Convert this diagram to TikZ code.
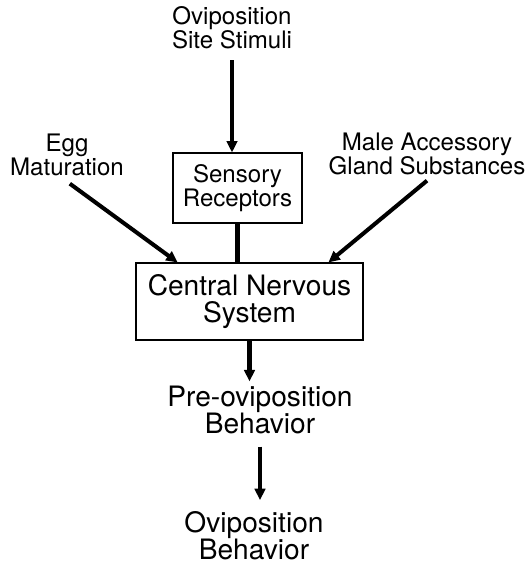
\documentclass[tikz,border=0pt]{standalone}
\usepackage{fontspec}
\setmainfont{TeX Gyre Heros}
\usetikzlibrary{arrows.meta,calc}

\begin{document}
\begin{tikzpicture}[
    lbl/.style={align=center,inner sep=3pt,font=\fontsize{13.7}{13.7}\selectfont},
    big/.style={align=center,inner sep=3pt,font=\fontsize{16}{15.4}\selectfont},
    box/.style={draw,line width=0.6pt},
    arr/.style={line width=2.3pt,-{Triangle[length=6.5pt,width=6pt]}}]

     \useasboundingbox (0,0) rectangle (10.48,11.32);

     \node[lbl] (stim) at (4.64,10.76) {Oviposition\\Site Stimuli};
     \node[lbl] (egg) at (1.34,8.22) {Egg\\Maturation};
     \node[lbl] (male) at (8.54,8.24) {Male Accessory\\Gland Substances};
     \node[lbl,box,minimum width=2.58cm,minimum height=1.4cm] (sens) at (4.75,7.56) {Sensory\\Receptors};
     \node[big,box,minimum width=4.54cm,minimum height=1.54cm] (cns) at (4.99,5.29) {Central Nervous\\System};
     \node[big] (pre) at (5.2,3.12) {Pre-oviposition\\Behavior};
     \node[big] (ovi) at (5.08,0.6) {Oviposition\\Behavior};

     \coordinate (cnsL) at ($(cns.north west)!0.185!(cns.north east)$);
     \coordinate (cnsR) at ($(cns.north west)!0.846!(cns.north east)$);

     \draw[arr,shorten <=3pt] (stim.south) -- (stim.south |- sens.north);
     \draw[line width=2.8pt] (sens.south) -- (sens.south |- cns.north);
     \draw[arr,shorten <=2pt] (egg.south) -- (cnsL);
     \draw[arr] (male.south) -- (cnsR);
     \draw[arr] (cns.south) -- ($(cns.south |- pre.north)+(0,-0.02)$);
     \draw[arr,shorten <=4pt] (pre.south) -- ($(pre.south |- ovi.north)+(0,0.12)$);

\end{tikzpicture}
\end{document}
